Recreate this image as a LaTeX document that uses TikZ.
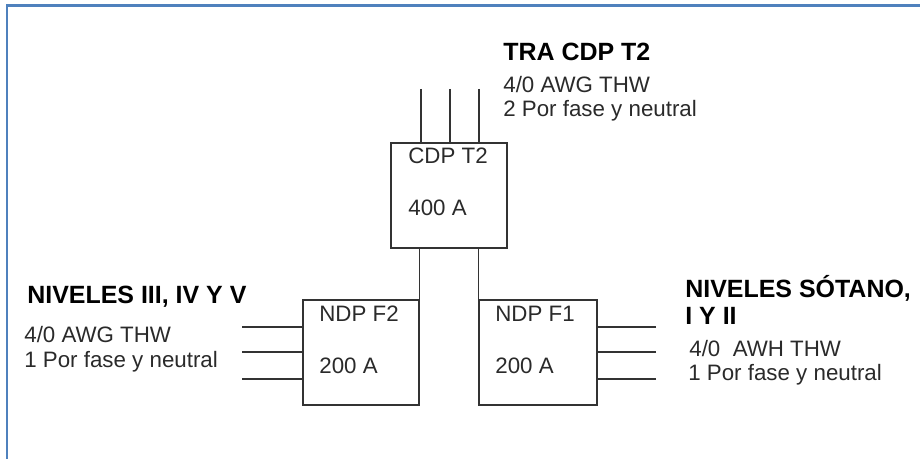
\documentclass[tikz,border=0pt]{standalone}
\usepackage{fontspec}
\setmainfont{Liberation Sans}
\usetikzlibrary{positioning}
\definecolor{marco}{HTML}{4F81BD}
\definecolor{linea}{HTML}{333333}
\definecolor{texto}{HTML}{2A2A2A}
\begin{document}
\begin{tikzpicture}[x=0.02cm,y=-0.02cm,
  tablero/.style={draw=linea,line width=0.7pt,minimum height=2.1cm,inner sep=0pt},
  dato/.style={font=\fontsize{12.7}{14.2}\selectfont,text=texto,anchor=west,align=left,inner sep=0pt},
  titulo/.style={font=\fontsize{14.2}{15.2}\selectfont\bfseries,anchor=west,align=left,inner sep=0pt},
  cable/.style={draw=linea,line width=0.7pt}
]
  \useasboundingbox (0,0) rectangle (920,459);
  \draw[marco,line width=1.4pt] (7,459) -- (7,5.5) -- (920,5.5);

  \node[tablero,minimum width=2.32cm] (cdp) at (449,195.5) {};
  \node[tablero,minimum width=2.32cm] (ndp2) at (361,352.5) {};
  \node[tablero,minimum width=2.36cm] (ndp1) at (538,352.5) {};
  \node[dato] (cdpn) at (408,156) {CDP T2};
  \node[dato] (cdpa) at (408,208) {400 A};
  \node[dato] (ndp2n) at (319,314) {NDP F2};
  \node[dato] (ndp2a) at (319,366) {200 A};
  \node[dato] (ndp1n) at (495,314) {NDP F1};
  \node[dato] (ndp1a) at (495,366) {200 A};

  \node[titulo] (tra) at (503,52) {TRA CDP T2};
  \node[dato,anchor=north west] (tradat) at (503,75.5) {4/0 AWG THW\\2 Por fase y neutral};
  \node[titulo] (niv2) at (27,297) {NIVELES III, IV Y V};
  \node[dato,anchor=north west] (niv2dat) at (24,326) {4/0 AWG THW\\1 Por fase y neutral};
  \node[titulo,anchor=north west] (niv1) at (685,275) {NIVELES SÓTANO,\\I Y II};
  \node[dato,anchor=north west] (niv1dat1) at (689,340) {4/0\ \ AWH THW};
  \node[dato,anchor=north west] (niv1dat2) at (688,364) {1 Por fase y neutral};

  % cables de entrada
  \foreach \x/\n in {421/a,450/b,479/c}{
    \coordinate (ent\n) at (\x,89);
    \draw[cable] (ent\n) -- (ent\n |- cdp.north);
  }
  % enlaces entre tableros
  \draw[cable] (ndp2.north east) -- (ndp2.north east |- cdp.south);
  \draw[cable] (ndp1.north west) -- (ndp1.north west |- cdp.south);
  % salidas
  \foreach \y/\n in {327/a,352/b,379/c}{
    \coordinate (sal2\n) at (242,\y);
    \coordinate (sal1\n) at (656,\y);
    \draw[cable] (sal2\n) -- (sal2\n -| ndp2.west);
    \draw[cable] (sal1\n) -- (sal1\n -| ndp1.east);
  }
\end{tikzpicture}
\end{document}
